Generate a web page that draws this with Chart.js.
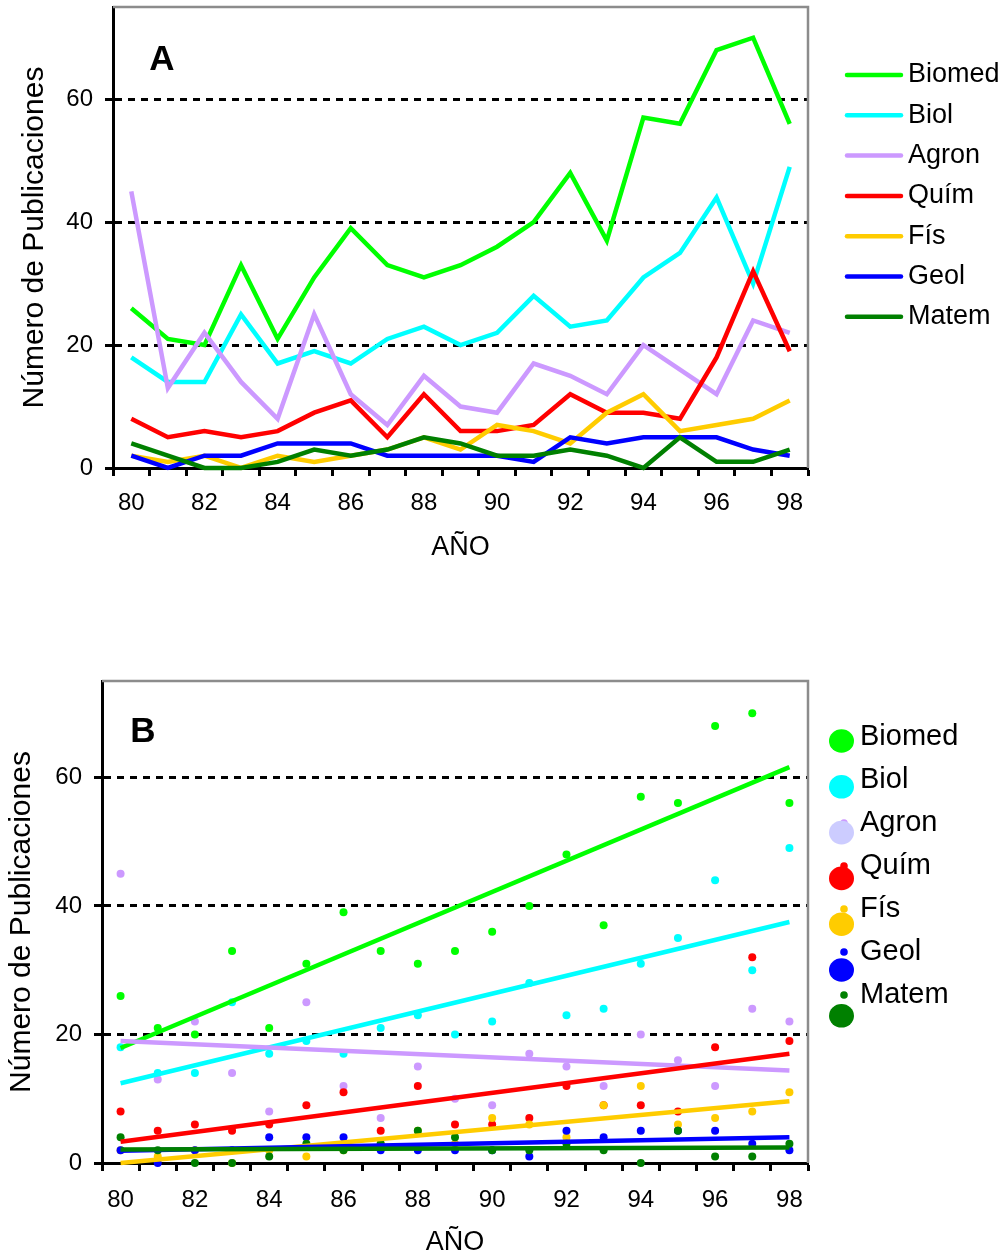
<!DOCTYPE html>
<html>
<head>
<meta charset="utf-8">
<script src="https://cdn.jsdelivr.net/npm/chart.js@4.4.1/dist/chart.umd.min.js"></script>
<style>
  html, body { margin: 0; padding: 0; background: #fff; }
  body { width: 1003px; height: 1258px; position: relative; overflow: hidden; }
  canvas { position: absolute; left: 0; }
  #chartA { top: 0; width: 1003px; height: 600px; }
  #chartB { top: 630px; width: 1003px; height: 628px; }
</style>
</head>
<body>
<canvas id="chartA" width="1003" height="600"></canvas>
<canvas id="chartB" width="1003" height="628"></canvas>
<script>
// Publications per year and field, 1980-1998
const years = ['80','81','82','83','84','85','86','87','88','89','90','91','92','93','94','95','96','97','98'];
const xTickLabels = ['80','82','84','86','88','90','92','94','96','98'];
const yTickValues = [0, 20, 40, 60];

const seriesNames = ['Biomed', 'Biol', 'Agron', 'Quím', 'Fís', 'Geol', 'Matem'];

const biomed = [26, 21, 20, 33, 21, 31, 39, 33, 31, 33, 36, 40, 48, 37, 57, 56, 68, 70, 56];
const biol   = [18, 14, 14, 25, 17, 19, 17, 21, 23, 20, 22, 28, 23, 24, 31, 35, 44, 30, 49];
const agron  = [45, 13, 22, 14,  8, 25, 12,  7, 15, 10,  9, 17, 15, 12, 20, 16, 12, 24, 22];
const quim   = [ 8,  5,  6,  5,  6,  9, 11,  5, 12,  6,  6,  7, 12,  9,  9,  8, 18, 32, 19];
const fis    = [ 2,  1,  2,  0,  2,  1,  2,  3,  5,  3,  7,  6,  4,  9, 12,  6,  7,  8, 11];
const geol   = [ 2,  0,  2,  2,  4,  4,  4,  2,  2,  2,  2,  1,  5,  4,  5,  5,  5,  3,  2];
const matem  = [ 4,  2,  0,  0,  1,  3,  2,  3,  5,  4,  2,  2,  3,  2,  0,  5,  1,  1,  3];

// Linear trend values at 1980 and 1998 for each field
const trendStart = [17.9, 12.4, 19.0, 3.3, 0.0, 1.9, 2.1];
const trendEnd   = [61.6, 37.5, 14.4, 17.0, 9.6, 4.0, 2.4];

const seriesValues = [biomed, biol, agron, quim, fis, geol, matem];

// styling
const FONT = "'Liberation Sans', Arial, Helvetica, sans-serif";
const seriesColors = ['#00ff00', '#00ffff', '#cc99ff', '#ff0000', '#ffcc00', '#0000ff', '#008000'];
const legendDiscColors = ['#00ff00', '#00ffff', '#ccccff', '#ff0000', '#ffcc00', '#0000ff', '#008000'];

function buildScales(o) {
  return {
    x: {
      type: 'category',
      labels: years,
      offset: true,
      afterFit: s => { s.height = o.xHeight; s.paddingLeft = 0; s.paddingRight = 0; },
      ticks: {
        autoSkip: false, maxRotation: 0, minRotation: 0,
        padding: o.xTickPad, color: '#000',
        font: { family: FONT, size: 24, lineHeight: 1 },
        callback: function (v) {
          const l = this.getLabelForValue(v);
          return xTickLabels.includes(l) ? l : '';
        }
      },
      grid: { offset: true, drawOnChartArea: false, color: '#000', tickColor: '#000', tickLength: 8, tickWidth: 3 },
      border: { color: '#000', width: 3 },
      title: {
        display: true, text: 'AÑO', color: '#000',
        font: { family: FONT, size: 27, lineHeight: 1 },
        padding: { top: 0, bottom: o.xTitlePad }
      }
    },
    y: {
      min: 0, max: 75,
      afterBuildTicks: s => { s.ticks = yTickValues.map(v => ({ value: v })); },
      afterFit: s => { s.width = o.yWidth; s.paddingTop = 0; s.paddingBottom = 0; },
      ticks: { color: '#000', padding: 12, font: { family: FONT, size: 24 } },
      grid: {
        color: c => (c.tick && c.tick.value === 0) ? 'rgba(0,0,0,0)' : '#000',
        lineWidth: 3, tickColor: '#000', tickLength: 8, tickWidth: 3, tickBorderDash: []
      },
      border: { color: '#000', width: 3, dash: [7, 6] },
      title: {
        display: true, text: 'Número de Publicaciones', color: '#000',
        font: { family: FONT, size: 30, lineHeight: 1 },
        padding: { top: o.yTitlePad, bottom: 0 }
      }
    }
  };
}

// plot frame (grey top/right edges) and panel letter
function framePlugin(letter, lx, ly) {
  return {
    id: 'frame' + letter,
    afterDraw(chart) {
      const { ctx, chartArea: a } = chart;
      ctx.save();
      ctx.strokeStyle = '#8c8c8c';
      ctx.lineWidth = 2.5;
      ctx.beginPath();
      ctx.moveTo(a.left, a.top);
      ctx.lineTo(a.right, a.top);
      ctx.lineTo(a.right, a.bottom);
      ctx.stroke();
      ctx.fillStyle = '#000';
      ctx.font = 'bold 35px ' + FONT;
      ctx.textAlign = 'center';
      ctx.textBaseline = 'middle';
      ctx.fillText(letter, a.left + lx, a.top + ly);
      ctx.restore();
    }
  };
}

const legendA = {
  id: 'legendA',
  afterDraw(chart) {
    const ctx = chart.ctx;
    ctx.save();
    ctx.font = '27px ' + FONT;
    ctx.textBaseline = 'middle';
    ctx.textAlign = 'left';
    seriesNames.forEach((name, i) => {
      const y = 75 + 40.3 * i;
      ctx.strokeStyle = seriesColors[i];
      ctx.lineWidth = 4.5;
      ctx.lineCap = 'round';
      ctx.beginPath();
      ctx.moveTo(847, y);
      ctx.lineTo(901, y);
      ctx.stroke();
      ctx.fillStyle = '#000';
      ctx.fillText(name, 908, y);
    });
    ctx.restore();
  }
};

const legendB = {
  id: 'legendB',
  afterDraw(chart) {
    const ctx = chart.ctx;
    ctx.save();
    // small series markers first, then the larger discs over them
    seriesNames.forEach((name, i) => {
      ctx.fillStyle = seriesColors[i];
      ctx.beginPath();
      ctx.arc(844, 107 + 43 * i, 3.8, 0, Math.PI * 2);
      ctx.fill();
    });
    seriesNames.forEach((name, i) => {
      ctx.fillStyle = legendDiscColors[i];
      ctx.beginPath();
      ctx.ellipse(841.5, 111 + 45.8 * i, 12.5, 11.8, 0, 0, Math.PI * 2);
      ctx.fill();
    });
    ctx.font = '29px ' + FONT;
    ctx.textBaseline = 'middle';
    ctx.textAlign = 'left';
    ctx.fillStyle = '#000';
    seriesNames.forEach((name, i) => {
      ctx.fillText(name, 860, 107 + 43 * i);
    });
    ctx.restore();
  }
};

const n = seriesNames.length;

// Panel A: yearly counts as lines
new Chart(document.getElementById('chartA'), {
  type: 'line',
  data: {
    labels: years,
    datasets: seriesNames.map((name, i) => ({
      label: name,
      data: seriesValues[i],
      borderColor: seriesColors[i],
      backgroundColor: seriesColors[i],
      borderWidth: 4.5,
      pointRadius: 0,
      tension: 0,
      clip: false,
      order: n - 1 - i
    }))
  },
  options: {
    responsive: false,
    animation: false,
    devicePixelRatio: 1,
    layout: { padding: { left: 0, top: 7, right: 195, bottom: 32 } },
    plugins: { legend: { display: false }, tooltip: { enabled: false } },
    scales: buildScales({ xHeight: 100, xTickPad: 15, xTitlePad: 6.5, yWidth: 113, yTitlePad: 20 })
  },
  plugins: [framePlugin('A', 49, 53), legendA]
});

// Panel B: yearly counts as points with linear trends
const dotSets = seriesNames.map((name, i) => ({
  label: name,
  data: seriesValues[i],
  showLine: false,
  borderColor: seriesColors[i],
  backgroundColor: seriesColors[i],
  pointRadius: 4,
  pointBorderWidth: 0,
  pointHoverRadius: 4,
  clip: false,
  order: 2 * n - 1 - i
}));
const trendSets = seriesNames.map((name, i) => ({
  label: name + ' tendencia',
  data: [{ x: years[0], y: trendStart[i] }, { x: years[years.length - 1], y: trendEnd[i] }],
  borderColor: seriesColors[i],
  backgroundColor: seriesColors[i],
  borderWidth: 4.5,
  pointRadius: 0,
  tension: 0,
  clip: false,
  order: n - 1 - i
}));

new Chart(document.getElementById('chartB'), {
  type: 'line',
  data: { labels: years, datasets: dotSets.concat(trendSets) },
  options: {
    responsive: false,
    animation: false,
    devicePixelRatio: 1,
    layout: { padding: { left: 0, top: 51, right: 195, bottom: 0 } },
    plugins: { legend: { display: false }, tooltip: { enabled: false } },
    scales: buildScales({ xHeight: 95, xTickPad: 17, xTitlePad: 1.5, yWidth: 102, yTitlePad: 7 })
  },
  plugins: [framePlugin('B', 41, 51), legendB]
});
</script>
</body>
</html>
